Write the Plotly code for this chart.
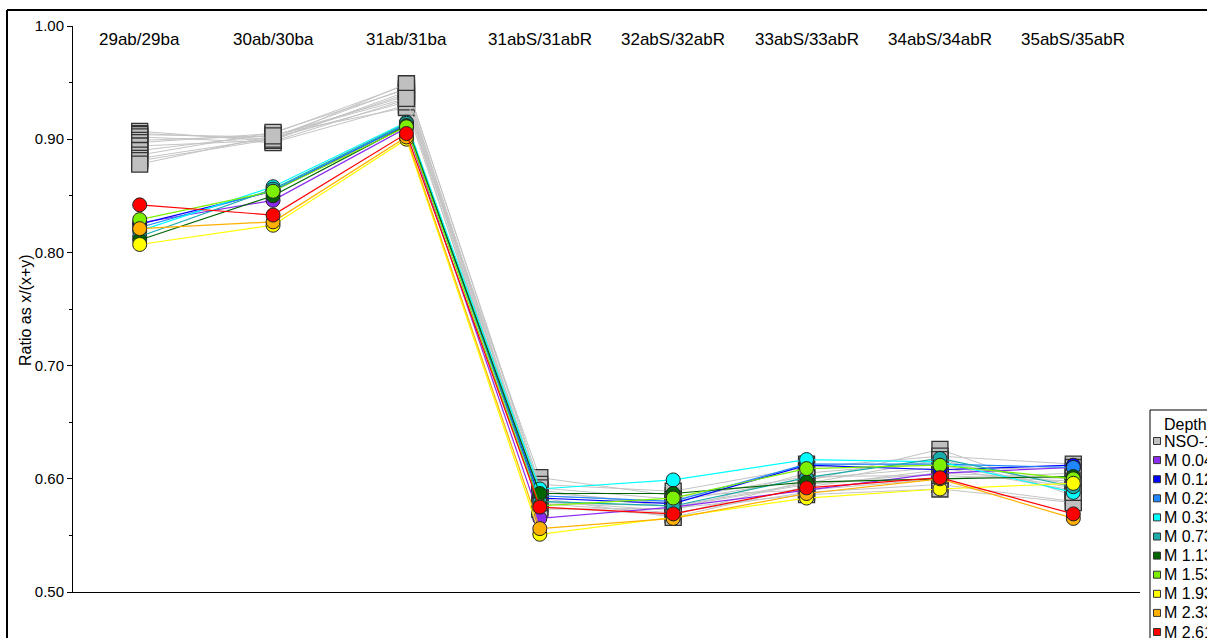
import plotly.graph_objects as go

categories = ["29ab/29ba", "30ab/30ba", "31ab/31ba", "31abS/31abR",
              "32abS/32abR", "33abS/33abR", "34abS/34abR", "35abS/35abR"]

# NSO-1 replicate measurements (grey squares), one row per replicate
nso_replicates = [
    [0.907, 0.898, 0.935, 0.590, 0.575, 0.595, 0.605, 0.600],
    [0.905, 0.900, 0.940, 0.585, 0.580, 0.600, 0.610, 0.590],
    [0.904, 0.902, 0.945, 0.580, 0.572, 0.605, 0.615, 0.595],
    [0.902, 0.897, 0.930, 0.601, 0.585, 0.590, 0.600, 0.605],
    [0.899, 0.903, 0.938, 0.575, 0.568, 0.598, 0.626, 0.585],
    [0.897, 0.905, 0.948, 0.595, 0.589, 0.610, 0.620, 0.613],
    [0.894, 0.899, 0.942, 0.578, 0.570, 0.588, 0.595, 0.580],
    [0.890, 0.904, 0.928, 0.583, 0.566, 0.593, 0.608, 0.610],
    [0.886, 0.906, 0.944, 0.588, 0.578, 0.613, 0.612, 0.592],
    [0.883, 0.901, 0.933, 0.573, 0.574, 0.586, 0.591, 0.579],
    [0.881, 0.900, 0.949, 0.592, 0.582, 0.602, 0.603, 0.598],
    [0.878, 0.903, 0.936, 0.579, 0.576, 0.596, 0.617, 0.588],
]

depth_names = ["M 0.04", "M 0.12", "M 0.23", "M 0.33", "M 0.73",
               "M 1.13", "M 1.53", "M 1.93", "M 2.33", "M 2.61"]
depth_colors = ["#8B2BF0", "#0000FF", "#1E86FF", "#00FFFF", "#1AABAB",
                "#006400", "#7CF000", "#FFFF00", "#FFB000", "#FF0000"]

m_004 = [0.826, 0.846, 0.910, 0.565, 0.575, 0.590, 0.605, 0.610]
m_012 = [0.825, 0.854, 0.913, 0.583, 0.578, 0.612, 0.608, 0.612]
m_023 = [0.822, 0.855, 0.913, 0.585, 0.580, 0.613, 0.613, 0.610]
m_033 = [0.819, 0.858, 0.915, 0.591, 0.599, 0.617, 0.615, 0.588]
m_073 = [0.814, 0.856, 0.914, 0.580, 0.576, 0.601, 0.618, 0.593]
m_113 = [0.811, 0.850, 0.912, 0.587, 0.587, 0.597, 0.600, 0.602]
m_153 = [0.829, 0.854, 0.911, 0.576, 0.583, 0.609, 0.612, 0.600]
m_193 = [0.807, 0.824, 0.900, 0.551, 0.566, 0.583, 0.591, 0.596]
m_233 = [0.821, 0.827, 0.902, 0.556, 0.565, 0.587, 0.600, 0.565]
m_261 = [0.842, 0.833, 0.905, 0.575, 0.569, 0.592, 0.601, 0.569]
depth_values = [m_004, m_012, m_023, m_033, m_073, m_113, m_153, m_193, m_233, m_261]

y_ticks = [0.5, 0.6, 0.7, 0.8, 0.9, 1.0]
y_title = "Ratio as x/(x+y)"

legend_title = "Depth"
nso_name = "NSO-1"
nso_color = "#C0C0C0"

FONT = "Liberation Sans, Arial, sans-serif"
W, H = 1207, 638
ML, MR, MT, MB = 73, 67, 26, 46
PW, PH = W - ML - MR, H - MT - MB


def px_x(px):
    return (px - ML) / PW


def px_y(py):
    return (H - MB - py) / PH


fig = go.Figure()

# grey NSO-1 lines + squares
for row in nso_replicates:
    fig.add_trace(go.Scatter(
        x=categories, y=row, mode="lines+markers", name=nso_name, showlegend=False,
        line=dict(color="#C4C4C4", width=1),
        marker=dict(symbol="square", size=16, color=nso_color,
                    line=dict(color="#333333", width=1.3))))

for name, col, vals in zip(depth_names, depth_colors, depth_values):
    fig.add_trace(go.Scatter(
        x=categories, y=vals, mode="lines+markers", name=name, showlegend=False,
        line=dict(color=col, width=1.2),
        marker=dict(symbol="circle", size=14, color=col,
                    line=dict(color="#222222", width=1))))

# category labels at top of plot
for c in categories:
    fig.add_annotation(x=c, y=px_y(40), xref="x", yref="paper", text=c,
                       yanchor="middle", showarrow=False,
                       font=dict(size=17, color="black", family=FONT))

# y-axis title
fig.add_annotation(x=px_x(25), y=px_y(310), xref="paper", yref="paper",
                   text=y_title, textangle=-90, showarrow=False,
                   xanchor="center", yanchor="middle",
                   font=dict(size=16, color="black", family=FONT))

# outer frame (left and top edges visible in the picture)
fig.add_shape(type="line", xref="paper", yref="paper",
              x0=px_x(7), x1=px_x(7), y0=px_y(700), y1=px_y(10),
              line=dict(color="black", width=2))
fig.add_shape(type="line", xref="paper", yref="paper",
              x0=px_x(7), x1=px_x(1300), y0=px_y(10), y1=px_y(10),
              line=dict(color="black", width=2))

# legend box (drawn manually so it sits like the original)
fig.add_shape(type="rect", xref="paper", yref="paper",
              x0=px_x(1150), x1=px_x(1240), y0=px_y(660), y1=px_y(410),
              line=dict(color="black", width=1), fillcolor="white")
fig.add_annotation(x=px_x(1162), y=px_y(424), xref="paper", yref="paper",
                   text=legend_title, xanchor="left", yanchor="middle",
                   showarrow=False, font=dict(size=16, family=FONT, color="black"))
leg_names = [nso_name] + depth_names
leg_colors = [nso_color] + depth_colors
for i, (nm, col) in enumerate(zip(leg_names, leg_colors)):
    yc = 441 + i * 19.1
    fig.add_shape(type="rect", xref="paper", yref="paper",
                  xsizemode="pixel", ysizemode="pixel",
                  xanchor=px_x(1157), yanchor=px_y(yc),
                  x0=-3.5, x1=3.5, y0=-3.5, y1=3.5,
                  fillcolor=col, line=dict(color="#333333", width=1))
    fig.add_annotation(x=px_x(1162), y=px_y(yc), xref="paper", yref="paper",
                       text=nm, xanchor="left", yanchor="middle",
                       showarrow=False, font=dict(size=16, family=FONT, color="black"))

fig.update_layout(
    width=W, height=H,
    margin=dict(l=ML, r=MR, t=MT, b=MB, autoexpand=False),
    paper_bgcolor="white", plot_bgcolor="white",
    font=dict(family=FONT, size=15, color="black"),
    xaxis=dict(type="category", range=[-0.5, 7.5], showticklabels=False,
               ticks="", showline=True, linecolor="black", linewidth=1,
               showgrid=False, zeroline=False),
    yaxis=dict(range=[0.5, 1.0], tickvals=y_ticks, tickformat=".2f",
               ticks="outside", ticklen=5, tickcolor="black",
               showline=True, linecolor="black", linewidth=1,
               showgrid=False, zeroline=False,
               minor=dict(dtick=0.05, ticks="outside", ticklen=3, tickcolor="black"),
               tickfont=dict(size=15)),
    showlegend=False,
)

fig.write_html("out.html", config={"displayModeBar": False},
               post_script="document.body.style.margin='0';document.body.style.overflow='hidden';")
